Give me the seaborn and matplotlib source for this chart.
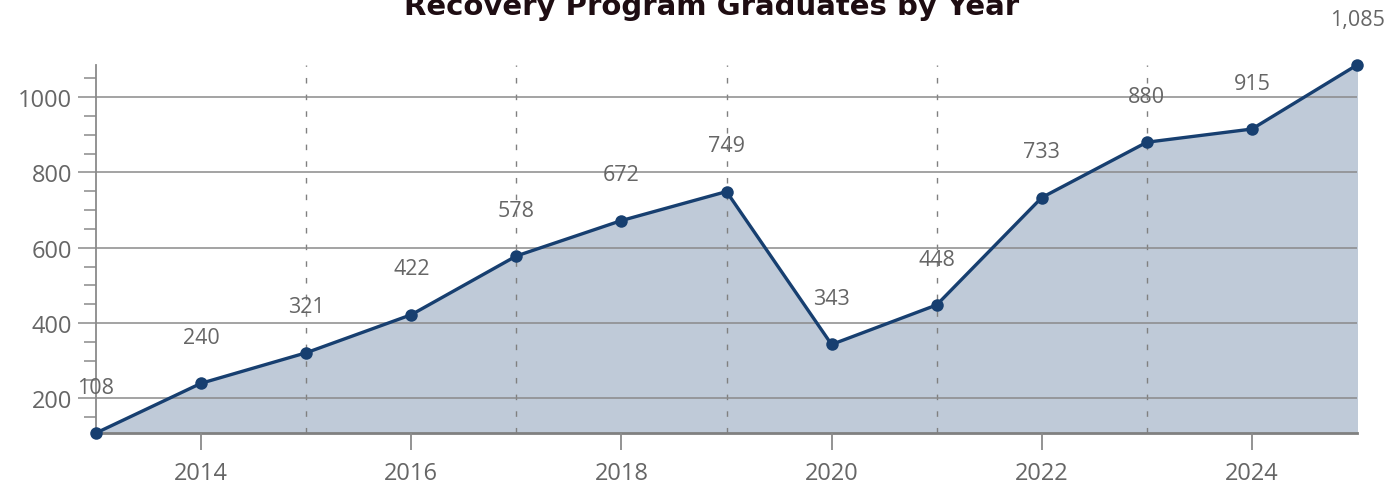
import matplotlib
matplotlib.use("Agg")
import matplotlib.pyplot as plt
import seaborn as sns
import pandas as pd
import numpy as np
from matplotlib.ticker import MultipleLocator, FixedLocator

years = [2013, 2014, 2015, 2016, 2017, 2018, 2019, 2020, 2021, 2022, 2023, 2024, 2025]
graduates = [108, 240, 321, 422, 578, 672, 749, 343, 448, 733, 880, 915, 1085]
labels = ["108", "240", "321", "422", "578", "672", "749", "343", "448", "733", "880", "915", "1,085"]
title = "Recovery Program Graduates by Year"

df = pd.DataFrame({"year": years, "graduates": graduates})

sns.set_theme(style="white")
plt.rcParams["font.family"] = ["Open Sans", "DejaVu Sans"]

fig = plt.figure(figsize=(14, 4.89), dpi=100)
ax = fig.add_axes([96/1400, 1 - 434/489, (1357-96)/1400, (434-66)/489])

line_c = "#173f70"
ax.fill_between(df["year"], df["graduates"], 108, color="#bfcad8", zorder=1)
sns.lineplot(data=df, x="year", y="graduates", ax=ax, color=line_c, linewidth=2.4,
             marker="o", markersize=9, markeredgewidth=0, zorder=3, clip_on=False)

for x, y, t in zip(years, graduates, labels):
    ax.annotate(t, (x, y), xytext=(0, 33), textcoords="offset points",
                ha="center", va="center", fontsize=15.5, color="#666666")

ax.set_xlim(2013, 2025)
ax.set_ylim(108, 1085)
ax.set_xlabel("")
ax.set_ylabel("")

ax.xaxis.set_major_locator(FixedLocator([2014, 2016, 2018, 2020, 2022, 2024]))
ax.xaxis.set_minor_locator(FixedLocator([2015, 2017, 2019, 2021, 2023]))
ax.yaxis.set_major_locator(FixedLocator([200, 400, 600, 800, 1000]))
ax.yaxis.set_minor_locator(MultipleLocator(50))

ax.set_axisbelow(False)
ax.grid(axis="y", which="major", color="#8a8a8a", linewidth=1.1, linestyle="-")
ax.grid(axis="x", which="minor", color="#808080", linewidth=1.0, linestyle=(0, (4, 8)))

for s in ["top", "right"]:
    ax.spines[s].set_visible(False)
ax.spines["left"].set_color("#8a8a8a")
ax.spines["left"].set_linewidth(1.3)
ax.spines["bottom"].set_color("#808080")
ax.spines["bottom"].set_linewidth(2)

ax.tick_params(axis="y", which="major", length=13, width=1.1, color="#8a8a8a",
               labelsize=17, labelcolor="#666666", pad=4, left=True)
ax.tick_params(axis="y", which="minor", length=9, width=1.1, color="#8a8a8a", left=True)
ax.tick_params(axis="x", which="major", length=12, width=1.3, color="#8a8a8a",
               labelsize=17, labelcolor="#666666", pad=8, bottom=True)
ax.tick_params(axis="x", which="minor", length=0)

fig.text(0.508, 0.969, title, ha="center", va="baseline", fontsize=21,
         fontweight="bold", color="#1e0d12", family=["DejaVu Sans"])

fig.savefig("out.png", dpi=100)
